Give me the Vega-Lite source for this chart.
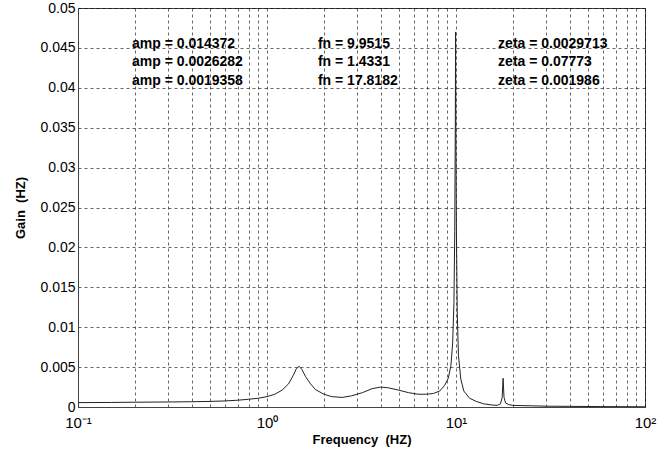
{
  "$schema": "https://vega.github.io/schema/vega-lite/v6.json",
  "width": 567,
  "height": 399,
  "autosize": {"type": "none"},
  "padding": {"left": 78, "top": 8, "right": 23, "bottom": 42},
  "background": "white",
  "config": {
    "view": {"stroke": "#444", "strokeWidth": 1},
    "font": "Liberation Sans",
    "axis": {
      "labelFont": "Liberation Sans",
      "labelFontSize": 14,
      "labelColor": "#000",
      "titleFont": "Liberation Sans",
      "titleFontSize": 13,
      "titleFontWeight": "bold",
      "titleColor": "#000",
      "domainColor": "#444",
      "gridColor": "#000",
      "gridDash": [3, 3],
      "gridOpacity": 0.75,
      "gridWidth": 0.8,
      "ticks": false
    }
  },
  "datasets": {
    "curve": [
      {"f": 0.1, "g": 0.00055},
      {"f": 0.15, "g": 0.00057},
      {"f": 0.2, "g": 0.0006},
      {"f": 0.3, "g": 0.00063},
      {"f": 0.4, "g": 0.00066},
      {"f": 0.5, "g": 0.0007},
      {"f": 0.6, "g": 0.00076},
      {"f": 0.7, "g": 0.00085},
      {"f": 0.8, "g": 0.00097},
      {"f": 0.9, "g": 0.0011},
      {"f": 1.0, "g": 0.0013},
      {"f": 1.1, "g": 0.0016},
      {"f": 1.2, "g": 0.0021},
      {"f": 1.3, "g": 0.0029},
      {"f": 1.38, "g": 0.004},
      {"f": 1.43, "g": 0.0048},
      {"f": 1.48, "g": 0.0051},
      {"f": 1.53, "g": 0.0047},
      {"f": 1.6, "g": 0.0038},
      {"f": 1.7, "g": 0.0029},
      {"f": 1.8, "g": 0.0022},
      {"f": 2.0, "g": 0.0016},
      {"f": 2.2, "g": 0.0013},
      {"f": 2.5, "g": 0.0012},
      {"f": 2.8, "g": 0.0014},
      {"f": 3.2, "g": 0.0018},
      {"f": 3.6, "g": 0.0023},
      {"f": 4.0, "g": 0.0025},
      {"f": 4.4, "g": 0.0024},
      {"f": 5.0, "g": 0.0021},
      {"f": 5.6, "g": 0.0018},
      {"f": 6.3, "g": 0.0016},
      {"f": 7.0, "g": 0.0016},
      {"f": 7.6, "g": 0.0017},
      {"f": 8.2, "g": 0.002},
      {"f": 8.7, "g": 0.0027},
      {"f": 9.1, "g": 0.0036},
      {"f": 9.4, "g": 0.0052},
      {"f": 9.6, "g": 0.008},
      {"f": 9.75, "g": 0.013},
      {"f": 9.85, "g": 0.022},
      {"f": 9.92, "g": 0.036},
      {"f": 9.95, "g": 0.047},
      {"f": 9.98, "g": 0.036},
      {"f": 10.05, "g": 0.022},
      {"f": 10.15, "g": 0.012},
      {"f": 10.3, "g": 0.0065},
      {"f": 10.6, "g": 0.0035},
      {"f": 11.0, "g": 0.002},
      {"f": 11.8, "g": 0.0011},
      {"f": 12.8, "g": 0.0007},
      {"f": 14.0, "g": 0.0004},
      {"f": 15.5, "g": 0.00025},
      {"f": 16.5, "g": 0.0002},
      {"f": 17.2, "g": 0.0004},
      {"f": 17.55, "g": 0.0012},
      {"f": 17.75, "g": 0.0036},
      {"f": 17.95, "g": 0.0012},
      {"f": 18.3, "g": 0.0005},
      {"f": 19, "g": 0.0003},
      {"f": 20, "g": 0.0002},
      {"f": 25, "g": 0.00015},
      {"f": 30, "g": 0.0001},
      {"f": 40, "g": 0.00008},
      {"f": 60, "g": 0.00005},
      {"f": 100, "g": 0.00003}
    ],
    "notes": [
      {"f": 0.193, "g": 0.0455, "t": "amp = 0.014372"},
      {"f": 0.193, "g": 0.0432, "t": "amp = 0.0026282"},
      {"f": 0.193, "g": 0.0409, "t": "amp = 0.0019358"},
      {"f": 1.86, "g": 0.0455, "t": "fn = 9.9515"},
      {"f": 1.86, "g": 0.0432, "t": "fn = 1.4331"},
      {"f": 1.86, "g": 0.0409, "t": "fn = 17.8182"},
      {"f": 16.7, "g": 0.0455, "t": "zeta = 0.0029713"},
      {"f": 16.7, "g": 0.0432, "t": "zeta = 0.07773"},
      {"f": 16.7, "g": 0.0409, "t": "zeta = 0.001986"}
    ]
  },
  "encoding": {
    "x": {
      "field": "f", "type": "quantitative",
      "scale": {"type": "log", "domain": [0.1, 100], "nice": false},
      "axis": {
        "title": "Frequency\u00a0 (HZ)",
        "titlePadding": 3,
        "labelPadding": 8,
        "labelFontSize": 15,
        "labelOverlap": false,
        "values": [0.1,0.2,0.3,0.4,0.5,0.6,0.7,0.8,0.9,1,2,3,4,5,6,7,8,9,10,20,30,40,50,60,70,80,90,100],
        "labelExpr": "datum.value == 0.1 ? '10⁻¹' : datum.value == 1 ? '10⁰' : datum.value == 10 ? '10¹' : datum.value == 100 ? '10²' : ''",
        "labelFlush": false
      }
    },
    "y": {
      "field": "g", "type": "quantitative",
      "scale": {"domain": [0, 0.05], "nice": false},
      "axis": {
        "title": "Gain\u00a0 (HZ)",
        "titlePadding": 12,
        "labelPadding": 3,
        "labelOverlap": false,
        "values": [0,0.005,0.01,0.015,0.02,0.025,0.03,0.035,0.04,0.045,0.05],
        "labelExpr": "format(datum.value, '~g')",
        "labelFlush": false
      }
    }
  },
  "layer": [
    {
      "data": {"name": "curve"},
      "mark": {"type": "line", "color": "#222", "strokeWidth": 1, "clip": true}
    },
    {
      "data": {"name": "notes"},
      "mark": {"type": "text", "align": "left", "baseline": "middle", "fontWeight": "bold", "fontSize": 14, "font": "Liberation Sans", "color": "#000"},
      "encoding": {
        "text": {"field": "t"}
      }
    }
  ]
}
